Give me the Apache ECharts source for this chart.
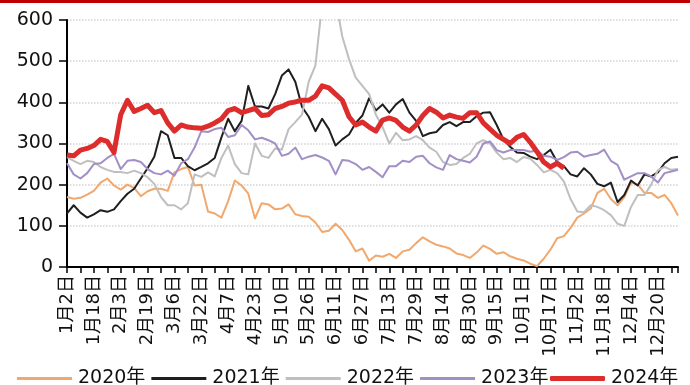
<!DOCTYPE html>
<html>
<head>
<meta charset="utf-8">
<script src="https://cdn.jsdelivr.net/npm/echarts@6/dist/echarts.min.js"></script>
<style>html,body{margin:0;padding:0;background:#fff;}#c{width:690px;height:385px;}</style>
</head>
<body>
<div id="c"></div>
<script>
// day step between samples (days since 1月2日)
const STEP = 4;
const tickLabels = ['1月2日','1月18日','2月3日','2月19日','3月6日','3月22日','4月7日','4月23日','5月10日','5月26日','6月11日','6月27日','7月13日','7月29日','8月14日','8月30日','9月15日','10月1日','10月17日','11月2日','11月18日','12月4日','12月20日'];
const seriesNames = ['2020年','2021年','2022年','2023年','2024年'];

const v2020 = [170,166,168,176,185,205,215,198,188,200,192,172,184,190,190,185,230,238,243,198,200,135,130,120,160,210,198,178,118,155,152,140,142,152,128,124,122,108,85,88,105,90,66,38,45,15,28,25,32,22,38,42,58,72,62,54,50,45,33,29,22,35,52,44,32,36,26,20,16,8,2,20,42,70,75,95,120,130,142,180,190,165,150,170,205,200,180,180,168,175,155,125];
const v2021 = [130,150,132,120,128,138,134,140,160,178,190,215,240,268,330,320,265,265,245,235,243,252,265,315,360,330,355,440,390,390,385,420,465,480,450,389,365,330,360,335,295,310,322,350,368,410,380,395,375,395,408,375,355,318,325,328,345,352,342,352,352,366,375,376,345,310,292,278,277,268,262,272,285,255,245,225,220,240,225,202,196,205,158,175,210,198,225,220,230,252,265,268];
const v2022 = [267,258,250,258,255,243,236,231,231,228,234,228,218,202,170,150,150,140,155,225,219,230,220,265,295,250,228,225,300,270,265,288,285,335,352,370,450,490,640,650,650,560,505,460,440,420,370,340,300,326,308,310,318,308,290,280,255,248,250,265,275,300,308,300,278,262,265,255,267,263,248,230,236,228,208,165,135,133,150,146,138,126,105,100,146,175,175,200,235,243,236,238];
const v2023 = [252,225,215,228,250,252,265,275,238,258,260,255,238,228,225,234,222,252,262,290,330,328,335,338,316,320,345,332,310,314,308,300,270,275,290,262,268,272,266,258,225,260,258,250,236,243,231,218,245,245,258,255,268,270,252,242,236,272,262,258,254,268,300,305,284,278,284,284,284,280,283,270,268,260,267,278,280,268,272,275,285,258,248,212,220,228,228,220,205,228,232,236];
const v2024 = [272,270,284,288,295,310,305,278,370,405,378,385,393,375,380,350,330,345,340,338,337,342,350,360,380,385,375,380,385,368,370,385,390,398,401,405,405,415,440,435,420,405,365,345,352,340,330,357,362,356,340,330,345,368,385,376,362,369,364,361,375,375,350,335,320,310,300,315,322,303,280,255,243,252,240];

const colors = ['#F0A86E','#1F1F1F','#BFBFBF','#A18FC6','#DD2C2C'];
const widths = [2,2,2,2,5];
const allVals = [v2020,v2021,v2022,v2023,v2024];

const toPairs = arr => arr.map((v,i)=>[i*STEP, v]);

const chart = echarts.init(document.getElementById('c'), null, {renderer:'canvas'});
const FONT = '"DejaVu Sans","Noto Sans CJK SC",sans-serif';

const option = {
  animation: false,
  backgroundColor: '#fff',
  graphic: [{type:'rect', left:0, top:0, shape:{width:690, height:3}, style:{fill:'#C00000'}}],
  grid: {left:67, right:12, top:20, bottom:118, containLabel:false},
  legend: [
    {data: seriesNames.slice(0,4), left: 12, top: 364, icon:'rect', itemWidth:55, itemHeight:3, itemGap:6,
     textStyle:{fontSize:19, color:'#111', fontFamily:FONT, padding:[0,0,0,1]}},
    {data: [seriesNames[4]], left: 545, top: 364, icon:'roundRect', itemWidth:55, itemHeight:5,
     textStyle:{fontSize:19, color:'#111', fontFamily:FONT, padding:[0,0,0,1]}}
  ],
  xAxis: {
    type:'value', min:0, max:364, interval:8,
    axisLine:{show:true, lineStyle:{color:'#000', width:2}},
    axisTick:{show:true, length:6, lineStyle:{color:'#000', width:1.5}},
    splitLine:{show:false},
    axisLabel:{rotate:90, fontSize:18, color:'#111', fontFamily:FONT, margin:8, showMaxLabel:true,
      formatter: v => (v % 16 === 0 && tickLabels[v/16]) ? tickLabels[v/16] : ''}
  },
  yAxis: {
    type:'value', min:0, max:600, interval:100,
    axisLine:{show:true, lineStyle:{color:'#000', width:2}},
    axisTick:{show:true, length:8, lineStyle:{color:'#000', width:1.5}},
    splitLine:{show:true, lineStyle:{color:'#d3d3d3', type:'dotted', width:1.5}},
    axisLabel:{fontSize:19, color:'#111', fontFamily:FONT, margin:14}
  },
  series: allVals.map((vals,i)=>({
    name: seriesNames[i], type:'line', data: toPairs(vals),
    symbol:'none', showSymbol:false, clip:true,
    z: 2 + i,
    itemStyle:{color: colors[i]},
    lineStyle:{color: colors[i], width: widths[i], join:'round'}
  }))
};
chart.setOption(option);
</script>
</body>
</html>
